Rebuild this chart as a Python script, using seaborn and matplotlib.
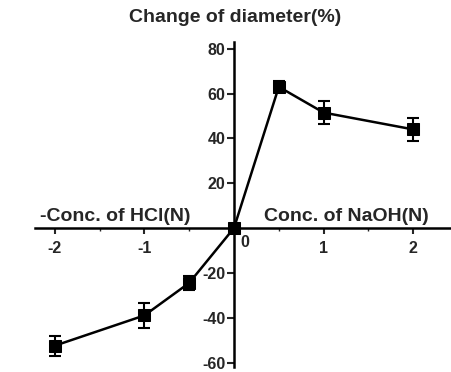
import numpy as np
import pandas as pd
import matplotlib
matplotlib.use("Agg")
import matplotlib.pyplot as plt
import seaborn as sns

# data
conc = [-2, -1, -0.5, 0, 0.5, 1, 2]
change = [-52.5, -39, -24.5, 0, 63, 51.5, 44]
err = [4.5, 5.5, 3, 0, 2.5, 5, 5]
yticks = [-60, -40, -20, 20, 40, 60, 80]
xticks = [-2, -1, 1, 2]

sns.set_style("white")
plt.rcParams['font.family'] = ['Liberation Sans', 'DejaVu Sans']
plt.rcParams['font.weight'] = 'bold'

df = pd.DataFrame({"conc": conc, "change": change, "err": err})

fig = plt.figure(figsize=(4.52, 3.72), dpi=100)
ax = fig.add_axes([35/452, 5/372, 415/452, 325/372])

ax.errorbar(df["conc"], df["change"], yerr=df["err"], fmt='none',
            ecolor='black', elinewidth=1.5, capsize=4, capthick=1.5, zorder=2)
sns.lineplot(data=df, x="conc", y="change", ax=ax, color='black',
             linewidth=1.8, marker='s', markersize=8, markeredgecolor='black',
             markerfacecolor='black', zorder=3)

ax.set_xlim(-2.22, 2.41)
ax.set_ylim(-62, 83)

for s in ['top', 'right']:
    ax.spines[s].set_visible(False)
ax.spines['left'].set_position(('data', 0))
ax.spines['bottom'].set_position(('data', 0))
ax.spines['left'].set_linewidth(1.8)
ax.spines['bottom'].set_linewidth(1.8)
ax.spines['left'].set_color('black')
ax.spines['bottom'].set_color('black')

ax.set_yticks(yticks)
ax.set_yticklabels([str(v) for v in yticks], fontsize=11.5, fontweight='bold')
ax.set_xticks(xticks)
ax.set_xticklabels([str(v) for v in xticks], fontsize=11.5, fontweight='bold')
ax.set_xticks([-1.5, -0.5, 0.5, 1.5], minor=True)
ax.tick_params(axis='y', direction='out', length=5, width=1.5, pad=1, left=True)
ax.tick_params(axis='x', which='major', direction='out', length=4, width=1.5, pad=5, bottom=True)
ax.tick_params(axis='x', which='minor', direction='out', length=2, width=1, bottom=True)
ax.set_xlabel("")
ax.set_ylabel("")

ax.text(0.07, -3, "0", ha='left', va='top', fontsize=11.5, fontweight='bold')
ax.text(-1.33, 1.5, "-Conc. of HCl(N)", ha='center', va='bottom', fontsize=14, fontweight='bold')
ax.text(1.25, 1.5, "Conc. of NaOH(N)", ha='center', va='bottom', fontsize=14, fontweight='bold')
fig.text(235/452, 1 - 18/372, "Change of diameter(%)", ha='center', va='center',
         fontsize=14, fontweight='bold')

fig.savefig("out.png", dpi=100)
